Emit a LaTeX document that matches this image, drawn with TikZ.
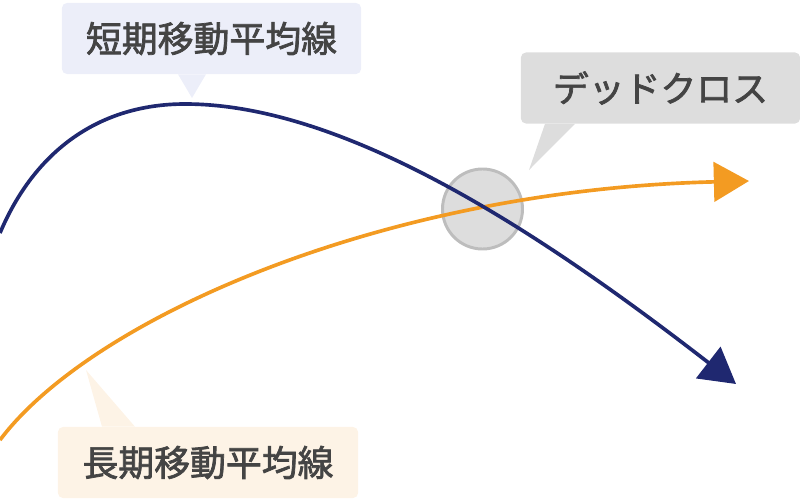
\documentclass[tikz,border=0pt]{standalone}
\usepackage{fontspec}
\usepackage{tikz}
\usetikzlibrary{arrows.meta, positioning, calc}
\newfontfamily\jpfont[FakeBold=2]{Noto Sans CJK JP}
\definecolor{ShortNavy}{HTML}{1F2870}
\definecolor{LongOrange}{HTML}{F39B22}
\definecolor{ShortBg}{HTML}{ECEEF9}
\definecolor{CrossBg}{HTML}{DDDDDD}
\definecolor{CrossRing}{HTML}{BDBDBD}
\definecolor{LongBg}{HTML}{FDF3E6}
\definecolor{LabelText}{HTML}{444444}

\begin{document}
\begin{tikzpicture}[x=0.025cm, y=-0.025cm,
    labelbox/.style={rounded corners=3.5pt, inner sep=0pt, minimum height=1.775cm,
        text=LabelText, font=\jpfont\fontsize{25.5}{30}\selectfont},
    trend/.style={line width=2.6pt, -{Triangle[length=25pt, width=28pt]}}]
    \useasboundingbox (0,0) rectangle (800,500);

    % Label boxes with their pointers
    \node[labelbox, fill=ShortBg, minimum width=7.475cm] (shortlbl) at (211.5,38.5) {短期移動平均線};
    \coordinate (shorttip) at (192,98);
    \fill[ShortBg] ($(shortlbl.south)+(-33.5,0)$) -- (shorttip) -- ($(shortlbl.south)+(-5.5,0)$) -- cycle;

    \node[labelbox, fill=CrossBg, minimum width=6.975cm] (crosslbl) at (660.5,88) {デッドクロス};
    \coordinate (crosstip) at (529,170);
    \fill[CrossBg] ($(crosslbl.south)+(-115.5,0)$) -- (crosstip) -- ($(crosslbl.south)+(-85.5,0)$) -- cycle;

    \node[labelbox, fill=LongBg, minimum width=7.5cm] (longlbl) at (208,462.5) {長期移動平均線};
    \coordinate (longtip) at (86,370);
    \fill[LongBg] ($(longlbl.north)+(-106,0)$) -- (longtip) -- ($(longlbl.north)+(-73,0)$) -- cycle;

    % Crossing point
    \node[circle, minimum size=2cm, fill=CrossBg, draw=CrossRing, line width=2.1pt] (cross) at (482.5,209) {};

    % Long-term average
    \draw[trend, LongOrange] (0,440) .. controls (90,320) and (380,190) .. (749,181);

    % Short-term average
    \draw[trend, ShortNavy] (0,233) .. controls (35,150) and (100,104) .. (185,104)
        .. controls (350,104) and (550,240) .. (736,384);
\end{tikzpicture}
\end{document}
